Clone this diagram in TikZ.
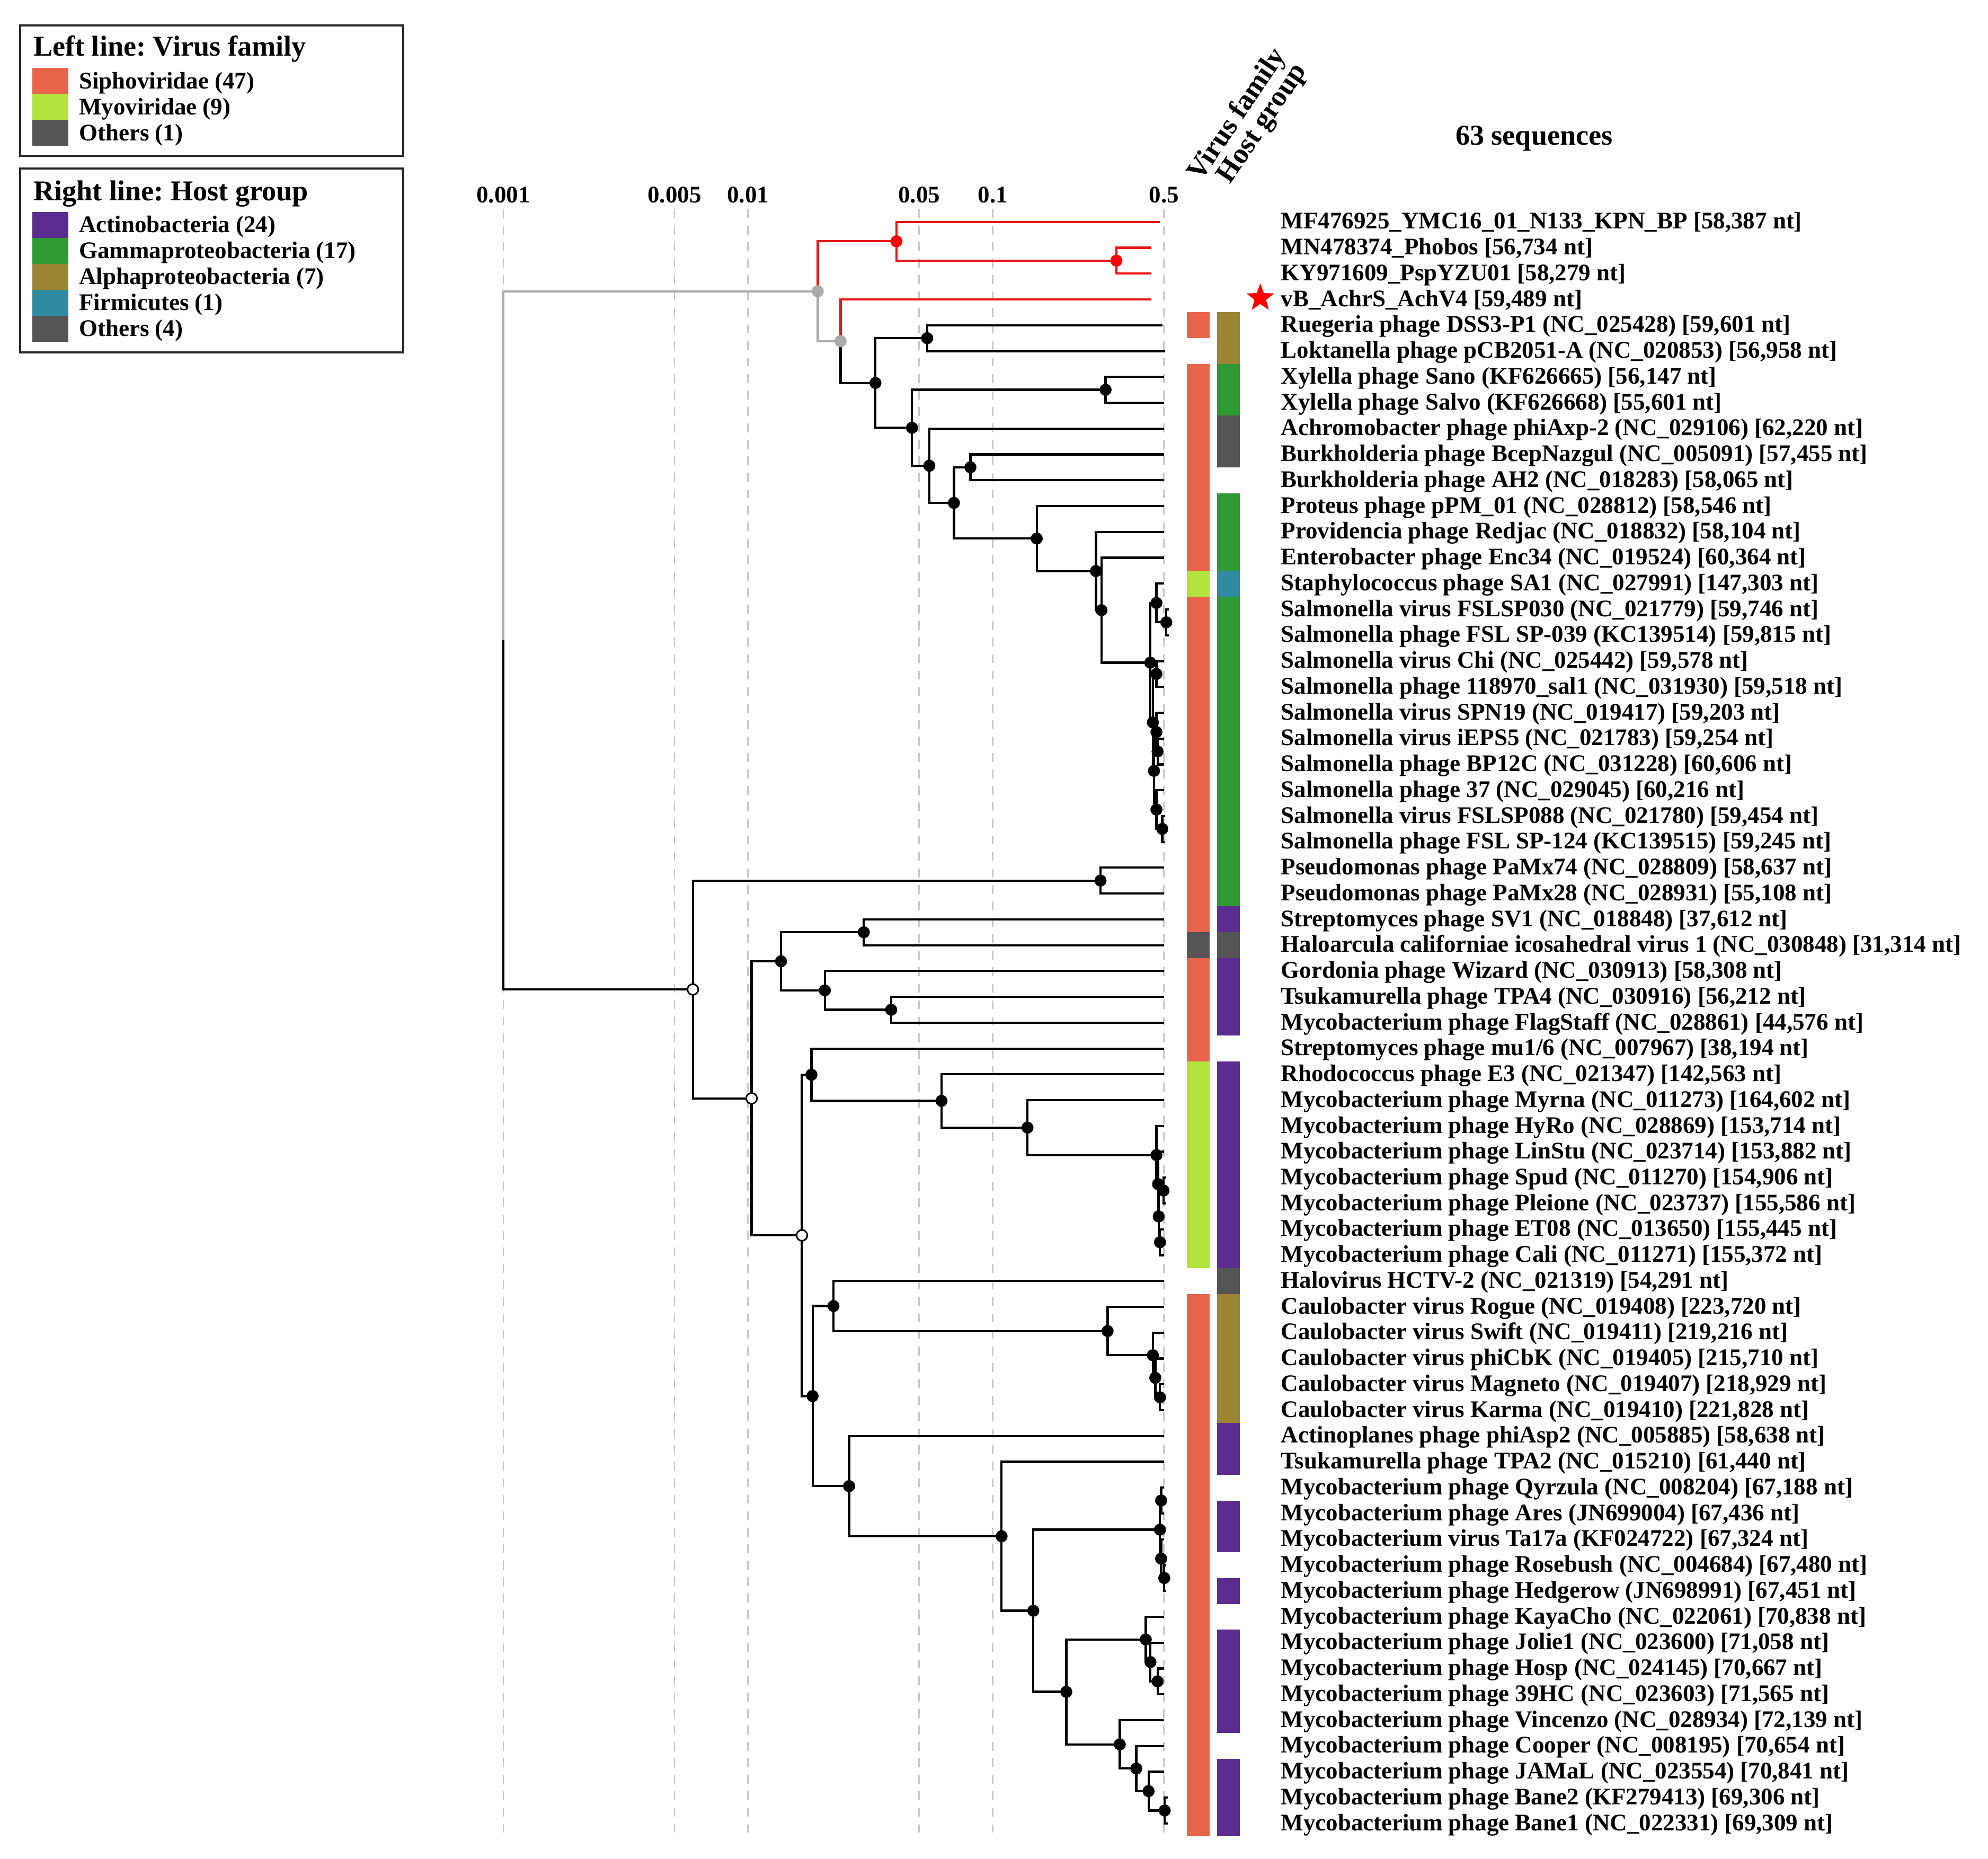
\documentclass[tikz,border=0pt]{standalone}
\usepackage{fontspec}
\setmainfont{Liberation Serif}
\usepackage{tikz}
\usetikzlibrary{shapes.geometric}
\frenchspacing

\definecolor{sipho}{RGB}{232,100,74}
\definecolor{myo}{RGB}{178,227,62}
\definecolor{othr}{RGB}{85,85,85}
\definecolor{actino}{RGB}{92,45,145}
\definecolor{gamma}{RGB}{47,154,51}
\definecolor{alpha}{RGB}{154,133,52}
\definecolor{firmi}{RGB}{48,139,160}
\definecolor{treered}{RGB}{232,22,22}
\definecolor{treegray}{RGB}{170,170,170}
\definecolor{gridgray}{RGB}{200,200,200}
\definecolor{legline}{RGB}{40,40,40}

\tikzset{
  branch/.style={line width=1pt},
  gline/.style={gridgray, line width=0.65pt, dash pattern=on 0.14cm off 0.12cm},
  inode/.style={circle, fill=black, inner sep=0pt, minimum size=0.19cm},
  onode/.style={circle, draw=black, fill=white, line width=0.7pt, inner sep=0pt, minimum size=0.17cm},
  lbl/.style={anchor=base west, inner sep=0pt, font=\fontsize{10.7}{12}\selectfont\bfseries},
  axl/.style={anchor=base, inner sep=0pt, font=\fontsize{10.7}{12}\selectfont\bfseries},
  bigl/.style={inner sep=0pt, font=\fontsize{12.9}{15}\selectfont\bfseries},
  legbox/.style={draw=legline, line width=0.85pt}
}

\begin{document}
\begin{tikzpicture}[x=0.02cm, y=-0.02cm]
\useasboundingbox (0,0) rectangle (1568,1466);

\draw[legbox] (16,20) rectangle (318,123);
\draw[legbox] (16,133) rectangle (318,278);
\node[bigl, anchor=base west] (lgv) at (26,44) {Left line: Virus family};
\node[bigl, anchor=base west] (lgh) at (26,158) {Right line: Host group};
\foreach \c/\txt [count=\i] in {sipho/Siphoviridae (47), myo/Myoviridae (9), othr/Others (1)} {
  \fill[\c] (25.5,{53.5+(\i-1)*20.5}) rectangle (54,{74+(\i-1)*20.5});
  \node[lbl] (lv\i) at (62,{70+(\i-1)*20.5}) {\txt};
}
\foreach \c/\txt [count=\i] in {actino/Actinobacteria (24), gamma/Gammaproteobacteria (17), alpha/Alphaproteobacteria (7), firmi/Firmicutes (1), othr/Others (4)} {
  \fill[\c] (25.5,{167+(\i-1)*20.5}) rectangle (54,{187.5+(\i-1)*20.5});
  \node[lbl] (lh\i) at (62,{183.2+(\i-1)*20.5}) {\txt};
}

\foreach \gx/\gl [count=\i] in {397/0.001, 532/0.005, 590/0.01, 725/0.05, 783/0.1, 918/0.5} {
  \draw[gline] (\gx,165) -- (\gx,1445);
  \node[axl] (ax\i) at (\gx,160) {\gl};
}

\node[bigl, anchor=base west, rotate=56] (hvf) at (947,144) {Virus family};
\node[bigl, anchor=base west, rotate=56] (hhg) at (970,146) {Host group};
\node[bigl, anchor=base] (nseq) at (1210,114.5) {63 sequences};

\foreach \tx [count=\i] in {915,908,908,908,917,919,918,918,918,918,
  918,918,918,918,918,922,922,918,918,918, 918,918,918,919,919,918,918,918,918,918,
  918,918,918,918,918,918,918,920,920,918, 918,918,918,918,918,918,918,918,918,918,
  918,918,920,920,918,918,918,918,918,918, 918,921,921}
  \coordinate (t\i) at (\tx,{175+(\i-1)*20.371});

\foreach \n/\x/\y in {nroot/397/505, nA/645/229.7, nB/707/190.3, nD/880.5/205.55, nC/663/269.05,
  nE/690.5/302, nF/731.3/266.7, nG/719.3/337.35, nH/872/307.4, nI/733/367.3, nJ/752.4/396.6,
  nK/765.4/368.5, nL/817.7/424.7, nM/864.4/450.35, nN/868.8/481.2, nO/907.3/522.6, nP/912.1/475.5,
  nQ/919.9/490.75, nR/909.3/569.7, nS/912.1/531.5, nT/910.2/607.9, nU/912.1/577.3, nW/913/592.6,
  nV/912.1/638.45, nX/916.7/653.7, nZ/546.5/780.3, nPs/868/694.45, nY/592.8/866.2, nAA/616/758.1,
  nAB/681.3/735.2, nAC/650.6/781.05, nAD/702.9/796.3, nYb/632.5/974.25, nAE/640/847.55,
  nAF/742.6/868.2, nAG/810.4/889.25, nAJ/912.1/910.9, nAK/913.4/933.8, nAL/913.9/959.3,
  nAM/917.7/938.9, nAN/914.9/979.65, nAI/640.9/1100.95, nAH/657.4/1029.95, nCA/873.6/1049.7,
  nCB/909.3/1068.75, nCC/911.2/1086.6, nCD/914.9/1101.9, nAZ/669.7/1171.95, nBA/790/1211.5,
  nBB/815/1270.25, nBC/914.9/1206.3, nBE/915.8/1183.35, nBF/915.8/1229.2, nBG/918.3/1244.45,
  nBD/841/1334.2, nBH/903.7/1292.85, nBJ/907.4/1310.7, nBK/913/1325.95, nBI/883.2/1375.6,
  nBL/896.2/1394.7, nBM/905.9/1412.5, nBN/918.6/1427.8}
  \coordinate (\n) at (\x,\y);

\foreach \p/\c in {nroot/nA, nA/nC}
  \draw[branch, treegray] (\p) |- (\c);
\foreach \p/\c in {nA/nB, nB/t1, nB/nD, nD/t2, nD/t3, nC/t4}
  \draw[branch, treered] (\p) |- (\c);
\foreach \p/\c in {nC/nE, nE/nF, nE/nG, nF/t5, nF/t6, nG/nH, nG/nI, nH/t7, nH/t8, nI/t9, nI/nJ,
  nJ/nK, nJ/nL, nK/t10, nK/t11, nL/t12, nL/nM, nM/t13, nM/nN, nN/t14, nN/nO, nO/nP, nO/nR,
  nP/t15, nP/nQ, nQ/t16, nQ/t17, nR/nS, nR/nT, nS/t18, nS/t19, nT/nU, nT/nV, nU/t20, nU/nW,
  nW/t21, nW/t22, nV/t23, nV/nX, nX/t24, nX/t25,
  nroot/nZ, nZ/nPs, nZ/nY, nPs/t26, nPs/t27, nY/nAA, nY/nYb, nAA/nAB, nAA/nAC, nAB/t28, nAB/t29,
  nAC/t30, nAC/nAD, nAD/t31, nAD/t32, nYb/nAE, nYb/nAI, nAE/t33, nAE/nAF, nAF/t34, nAF/nAG,
  nAG/t35, nAG/nAJ, nAJ/t36, nAJ/nAK, nAK/t37, nAK/nAL, nAL/nAM, nAL/nAN, nAM/t38, nAM/t39,
  nAN/t40, nAN/t41, nAI/nAH, nAI/nAZ, nAH/t42, nAH/nCA, nCA/t43, nCA/nCB, nCB/t44, nCB/nCC,
  nCC/t45, nCC/nCD, nCD/t46, nCD/t47, nAZ/t48, nAZ/nBA, nBA/t49, nBA/nBB, nBB/nBC, nBB/nBD,
  nBC/nBE, nBC/nBF, nBE/t50, nBE/t51, nBF/t52, nBF/nBG, nBG/t53, nBG/t54, nBD/nBH, nBD/nBI,
  nBH/t55, nBH/nBJ, nBJ/t56, nBJ/nBK, nBK/t57, nBK/t58, nBI/t59, nBI/nBL, nBL/t60, nBL/nBM,
  nBM/t61, nBM/nBN, nBN/t62, nBN/t63}
  \draw[branch] (\p) |- (\c);

\foreach \n in {nE,nF,nG,nH,nI,nJ,nK,nL,nM,nN,nO,nP,nQ,nR,nS,nT,nU,nV,nW,nX,
  nPs,nAA,nAB,nAC,nAD,nAE,nAF,nAG,nAJ,nAK,nAL,nAM,nAN,nAI,nAH,nCA,nCB,nCC,nCD,
  nAZ,nBA,nBB,nBC,nBD,nBE,nBF,nBG,nBH,nBI,nBJ,nBK,nBL,nBM,nBN}
  \node[inode] (d\n) at (\n) {};
\foreach \n in {nB,nD} \node[inode, fill=red] (d\n) at (\n) {};
\foreach \n in {nA,nC} \node[inode, fill=treegray] (d\n) at (\n) {};
\foreach \n in {nZ,nY,nYb} \node[onode] (d\n) at (\n) {};

\foreach \vf/\hg [count=\i] in {none/none, none/none, none/none, none/none, sipho/alpha,
  none/alpha, sipho/gamma, sipho/gamma, sipho/othr, sipho/othr,
  sipho/none, sipho/gamma, sipho/gamma, sipho/gamma, myo/firmi,
  sipho/gamma, sipho/gamma, sipho/gamma, sipho/gamma, sipho/gamma,
  sipho/gamma, sipho/gamma, sipho/gamma, sipho/gamma, sipho/gamma,
  sipho/gamma, sipho/gamma, sipho/actino, othr/othr, sipho/actino,
  sipho/actino, sipho/actino, sipho/none, myo/actino, myo/actino,
  myo/actino, myo/actino, myo/actino, myo/actino, myo/actino,
  myo/actino, none/othr, sipho/alpha, sipho/alpha, sipho/alpha,
  sipho/alpha, sipho/alpha, sipho/actino, sipho/actino, sipho/none,
  sipho/actino, sipho/actino, sipho/none, sipho/actino, sipho/none,
  sipho/actino, sipho/actino, sipho/actino, sipho/actino, sipho/none,
  sipho/actino, sipho/actino, sipho/actino} {
  \path[fill=\vf] (936,{175+(\i-1)*20.371-10.19}) rectangle (954,{175+(\i-1)*20.371+10.19});
  \path[fill=\hg] (960,{175+(\i-1)*20.371-10.19}) rectangle (978,{175+(\i-1)*20.371+10.19});
}

\node[star, star points=5, star point ratio=2.4, fill=red, inner sep=0pt, minimum size=0.46cm] (hl) at (994,235) {};

\foreach \lab [count=\i] in {
  {MF476925\_YMC16\_01\_N133\_KPN\_BP [58,387 nt]},
  {MN478374\_Phobos [56,734 nt]},
  {KY971609\_PspYZU01 [58,279 nt]},
  {vB\_AchrS\_AchV4 [59,489 nt]},
  {Ruegeria phage DSS3-P1 (NC\_025428) [59,601 nt]},
  {Loktanella phage pCB2051-A (NC\_020853) [56,958 nt]},
  {Xylella phage Sano (KF626665) [56,147 nt]},
  {Xylella phage Salvo (KF626668) [55,601 nt]},
  {Achromobacter phage phiAxp-2 (NC\_029106) [62,220 nt]},
  {Burkholderia phage BcepNazgul (NC\_005091) [57,455 nt]},
  {Burkholderia phage AH2 (NC\_018283) [58,065 nt]},
  {Proteus phage pPM\_01 (NC\_028812) [58,546 nt]},
  {Providencia phage Redjac (NC\_018832) [58,104 nt]},
  {Enterobacter phage Enc34 (NC\_019524) [60,364 nt]},
  {Staphylococcus phage SA1 (NC\_027991) [147,303 nt]},
  {Salmonella virus FSLSP030 (NC\_021779) [59,746 nt]},
  {Salmonella phage FSL SP-039 (KC139514) [59,815 nt]},
  {Salmonella virus Chi (NC\_025442) [59,578 nt]},
  {Salmonella phage 118970\_sal1 (NC\_031930) [59,518 nt]},
  {Salmonella virus SPN19 (NC\_019417) [59,203 nt]},
  {Salmonella virus iEPS5 (NC\_021783) [59,254 nt]},
  {Salmonella phage BP12C (NC\_031228) [60,606 nt]},
  {Salmonella phage 37 (NC\_029045) [60,216 nt]},
  {Salmonella virus FSLSP088 (NC\_021780) [59,454 nt]},
  {Salmonella phage FSL SP-124 (KC139515) [59,245 nt]},
  {Pseudomonas phage PaMx74 (NC\_028809) [58,637 nt]},
  {Pseudomonas phage PaMx28 (NC\_028931) [55,108 nt]},
  {Streptomyces phage SV1 (NC\_018848) [37,612 nt]},
  {Haloarcula californiae icosahedral virus 1 (NC\_030848) [31,314 nt]},
  {Gordonia phage Wizard (NC\_030913) [58,308 nt]},
  {Tsukamurella phage TPA4 (NC\_030916) [56,212 nt]},
  {Mycobacterium phage FlagStaff (NC\_028861) [44,576 nt]},
  {Streptomyces phage mu1/6 (NC\_007967) [38,194 nt]},
  {Rhodococcus phage E3 (NC\_021347) [142,563 nt]},
  {Mycobacterium phage Myrna (NC\_011273) [164,602 nt]},
  {Mycobacterium phage HyRo (NC\_028869) [153,714 nt]},
  {Mycobacterium phage LinStu (NC\_023714) [153,882 nt]},
  {Mycobacterium phage Spud (NC\_011270) [154,906 nt]},
  {Mycobacterium phage Pleione (NC\_023737) [155,586 nt]},
  {Mycobacterium phage ET08 (NC\_013650) [155,445 nt]},
  {Mycobacterium phage Cali (NC\_011271) [155,372 nt]},
  {Halovirus HCTV-2 (NC\_021319) [54,291 nt]},
  {Caulobacter virus Rogue (NC\_019408) [223,720 nt]},
  {Caulobacter virus Swift (NC\_019411) [219,216 nt]},
  {Caulobacter virus phiCbK (NC\_019405) [215,710 nt]},
  {Caulobacter virus Magneto (NC\_019407) [218,929 nt]},
  {Caulobacter virus Karma (NC\_019410) [221,828 nt]},
  {Actinoplanes phage phiAsp2 (NC\_005885) [58,638 nt]},
  {Tsukamurella phage TPA2 (NC\_015210) [61,440 nt]},
  {Mycobacterium phage Qyrzula (NC\_008204) [67,188 nt]},
  {Mycobacterium phage Ares (JN699004) [67,436 nt]},
  {Mycobacterium virus Ta17a (KF024722) [67,324 nt]},
  {Mycobacterium phage Rosebush (NC\_004684) [67,480 nt]},
  {Mycobacterium phage Hedgerow (JN698991) [67,451 nt]},
  {Mycobacterium phage KayaCho (NC\_022061) [70,838 nt]},
  {Mycobacterium phage Jolie1 (NC\_023600) [71,058 nt]},
  {Mycobacterium phage Hosp (NC\_024145) [70,667 nt]},
  {Mycobacterium phage 39HC (NC\_023603) [71,565 nt]},
  {Mycobacterium phage Vincenzo (NC\_028934) [72,139 nt]},
  {Mycobacterium phage Cooper (NC\_008195) [70,654 nt]},
  {Mycobacterium phage JAMaL (NC\_023554) [70,841 nt]},
  {Mycobacterium phage Bane2 (KF279413) [69,306 nt]},
  {Mycobacterium phage Bane1 (NC\_022331) [69,309 nt]}}
  \node[lbl] (lab\i) at (1010,{175+(\i-1)*20.371+5.5}) {\lab};

\end{tikzpicture}
\end{document}
